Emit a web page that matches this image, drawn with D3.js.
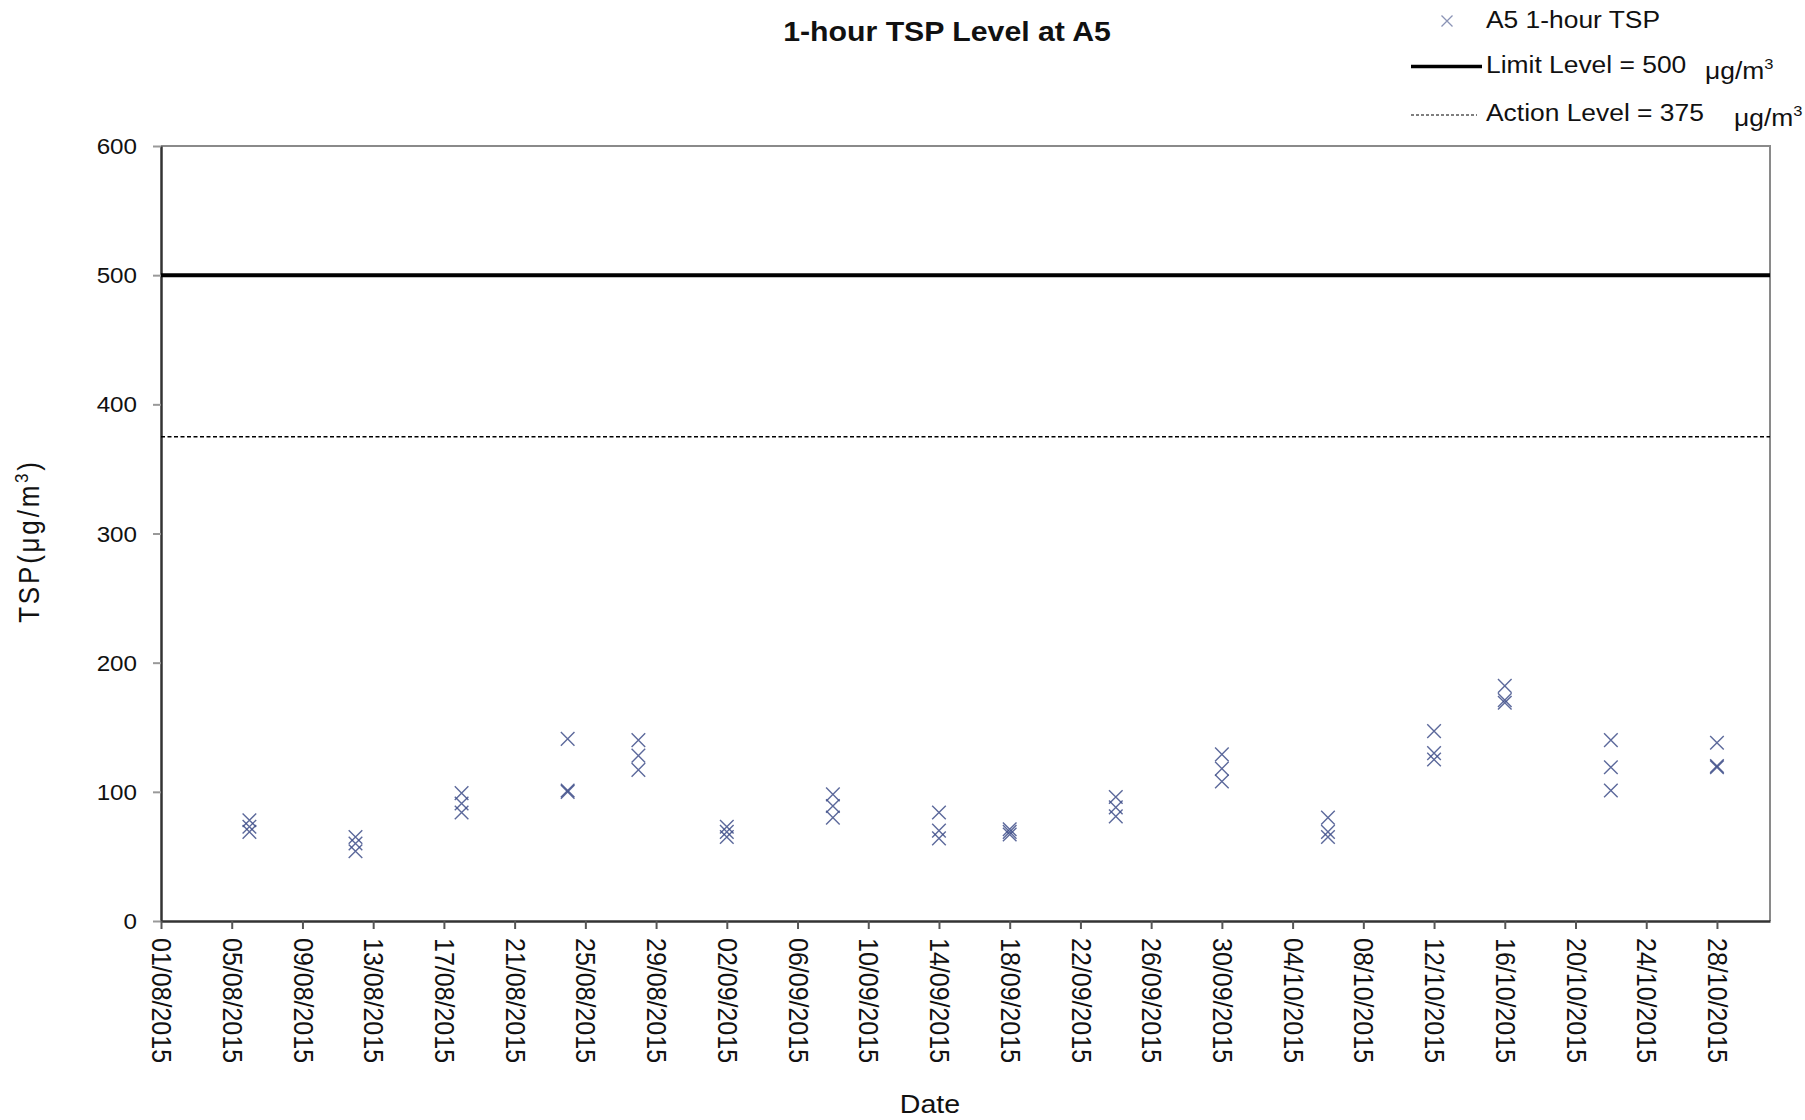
<!DOCTYPE html>
<html>
<head>
<meta charset="utf-8">
<script src="https://cdn.jsdelivr.net/npm/d3@7"></script>
<style>
  body { margin: 0; background: #fff; }
  svg { display: block; font-family: "Liberation Sans", Arial, sans-serif; }
</style>
</head>
<body>
<svg></svg>
<script>
// sampling days and the three 1-hour readings of each day
const sampleDates = ["06/08/2015", "12/08/2015", "18/08/2015", "24/08/2015", "28/08/2015",
  "02/09/2015", "08/09/2015", "14/09/2015", "18/09/2015", "24/09/2015", "30/09/2015",
  "06/10/2015", "12/10/2015", "16/10/2015", "22/10/2015", "28/10/2015"];
const tsp1 = [78, 65, 99, 141, 140, 73, 98, 84, 71, 96, 129, 80, 147, 182, 140, 138];
const tsp2 = [73, 60, 91, 101, 128, 69, 89, 70, 69, 88, 118, 69, 130, 171, 119, 120];
const tsp3 = [69, 54, 84, 100, 117, 65, 80, 64, 67, 81, 108, 65, 125, 169, 101, 119];

const limitLevel = 500;
const actionLevel = 375;
const yTicks = [0, 100, 200, 300, 400, 500, 600];
const xStart = "01/08/2015", xEnd = "31/10/2015", lastTick = "29/10/2015";

const W = 1805, H = 1120;
const plotLeft = 161, plotRight = 1770, plotTop = 146, plotBottom = 921;
const stretch = "scale(1.1,1)"; // the reference text is a little wide

const parse = d3.timeParse("%d/%m/%Y");
const fmt = d3.timeFormat("%d/%m/%Y");

let svg = d3.select("svg").attr("width", W).attr("height", H);

let x = d3.scaleTime().domain([parse(xStart), parse(xEnd)]).range([plotLeft, plotRight]);
let y = d3.scaleLinear().domain([0, 600]).range([plotBottom, plotTop]);

// flatten the readings
let points = [];
sampleDates.forEach((d, i) => {
  [tsp1[i], tsp2[i], tsp3[i]].forEach(v => points.push({ date: parse(d), value: v }));
});

// frame (top and right in grey)
svg.append("path")
  .attr("d", `M${plotLeft},${plotTop}H${plotRight}V${plotBottom}`)
  .attr("fill", "none")
  .attr("stroke", "#8a8a8a")
  .attr("stroke-width", 2);

// y axis
let yAxis = svg.append("g")
  .attr("transform", `translate(${plotLeft},0)`)
  .call(d3.axisLeft(y).tickValues(yTicks).tickSize(8).tickSizeOuter(0).tickFormat(d3.format("d")));
yAxis.select(".domain").attr("stroke", "#333").attr("stroke-width", 2.5);
yAxis.selectAll(".tick line").attr("stroke", "#999").attr("stroke-width", 2);
yAxis.selectAll(".tick text")
  .attr("x", 0).attr("dy", null)
  .attr("transform", `translate(-24,0) ${stretch}`)
  .attr("dominant-baseline", "central")
  .attr("font-size", 22)
  .attr("fill", "#111");

// x axis
let xTickValues = d3.timeDay.range(parse(xStart), parse(lastTick), 4);
let xAxis = svg.append("g")
  .attr("transform", `translate(0,${plotBottom})`)
  .call(d3.axisBottom(x).tickValues(xTickValues).tickSize(8).tickSizeOuter(0).tickFormat(fmt));
xAxis.select(".domain").attr("stroke", "#333").attr("stroke-width", 2.5);
xAxis.selectAll(".tick line").attr("stroke", "#555").attr("stroke-width", 2);
xAxis.selectAll(".tick text")
  .attr("y", 0).attr("dy", null)
  .attr("transform", `translate(0,17) ${stretch} rotate(90)`)
  .attr("text-anchor", "start")
  .attr("dominant-baseline", "central")
  .attr("font-size", 25)
  .attr("fill", "#111");

// limit and action levels
svg.append("line")
  .attr("x1", plotLeft).attr("x2", plotRight)
  .attr("y1", y(limitLevel)).attr("y2", y(limitLevel))
  .attr("stroke", "#000").attr("stroke-width", 4);
svg.append("line")
  .attr("x1", plotLeft).attr("x2", plotRight)
  .attr("y1", y(actionLevel)).attr("y2", y(actionLevel))
  .attr("stroke", "#000").attr("stroke-width", 1.5)
  .attr("stroke-dasharray", "4,2.5");

// the readings as crosses
const cross = "M-6.8,-6.8L6.8,6.8M-6.8,6.8L6.8,-6.8";
svg.append("g")
  .selectAll("path")
  .data(points)
  .enter()
  .append("path")
  .attr("d", cross)
  .attr("transform", d => `translate(${x(d.date)},${y(d.value)})`)
  .attr("fill", "none")
  .attr("stroke", "#3f4f8a")
  .attr("stroke-opacity", 0.85)
  .attr("stroke-width", 1.4);

// titles
svg.append("text")
  .attr("transform", `translate(947,41) ${stretch}`)
  .attr("text-anchor", "middle")
  .attr("font-size", 27.5)
  .attr("font-weight", "bold")
  .attr("fill", "#111")
  .text("1-hour TSP Level at A5");

svg.append("text")
  .attr("transform", `translate(930,1113) ${stretch}`)
  .attr("text-anchor", "middle")
  .attr("font-size", 26)
  .attr("fill", "#111")
  .text("Date");

let yTitle = svg.append("text")
  .attr("transform", `translate(39,541) ${stretch} rotate(-90)`)
  .attr("text-anchor", "middle")
  .attr("font-size", 26)
  .attr("letter-spacing", 2.8)
  .attr("fill", "#111");
yTitle.append("tspan").text("TSP(μg/m");
yTitle.append("tspan").attr("font-size", 17).attr("dy", -10).text("3");
yTitle.append("tspan").attr("dy", 10).text(")");

// legend
let legend = svg.append("g").attr("fill", "#111").attr("font-size", 24);

legend.append("path")
  .attr("d", "M-5.5,-5.5L5.5,5.5M-5.5,5.5L5.5,-5.5")
  .attr("transform", "translate(1447,21)")
  .attr("fill", "none")
  .attr("stroke", "#8a93b5")
  .attr("stroke-width", 1.3);
legend.append("text")
  .attr("transform", `translate(1486,28) ${stretch}`)
  .text("A5 1-hour TSP");

legend.append("line")
  .attr("x1", 1411).attr("x2", 1482).attr("y1", 66.5).attr("y2", 66.5)
  .attr("stroke", "#000").attr("stroke-width", 3.5);
legend.append("text")
  .attr("transform", `translate(1486,73) ${stretch}`)
  .text(`Limit Level = ${limitLevel}`);

legend.append("line")
  .attr("x1", 1411).attr("x2", 1477).attr("y1", 115).attr("y2", 115)
  .attr("stroke", "#000").attr("stroke-width", 1.2)
  .attr("stroke-dasharray", "3,2");
legend.append("text")
  .attr("transform", `translate(1486,121) ${stretch}`)
  .text(`Action Level = ${actionLevel}`);

// units after the two levels
[[1705, 79], [1734, 126]].forEach(([ux, uy]) => {
  let u = legend.append("text").attr("transform", `translate(${ux},${uy}) ${stretch}`);
  u.append("tspan").text("μg/m");
  u.append("tspan").attr("font-size", 15).attr("dy", -10).text("3");
});
</script>
</body>
</html>
